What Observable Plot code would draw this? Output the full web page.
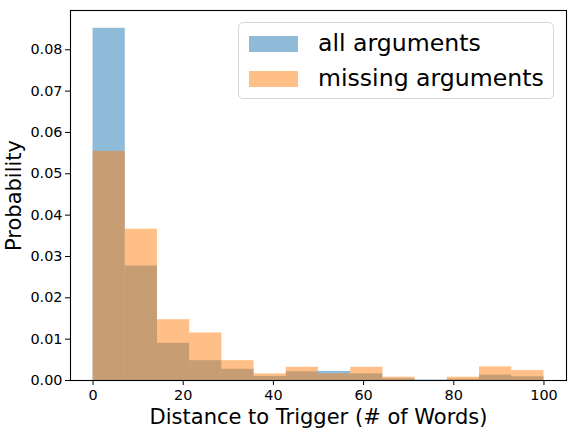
<!DOCTYPE html>
<html>
<head>
<meta charset="utf-8">
<script src="https://cdn.jsdelivr.net/npm/d3@7"></script>
<script src="https://cdn.jsdelivr.net/npm/@observablehq/plot@0.6"></script>
<style>
  html, body { margin: 0; padding: 0; background: #fff; }
  #wrap { position: relative; width: 573px; height: 434px; font-family: "DejaVu Sans", sans-serif; }
  #legend { position: absolute; left: 238px; top: 22px; width: 316px; height: 77px;
    border: 1px solid #d6d6d6; border-radius: 5px; background: rgba(255,255,255,0.8); box-sizing: border-box; }
  .item { position: absolute; left: 10px; display: flex; align-items: center; font-size: 23.6px; line-height: 1; color: #000; white-space: nowrap; }
  .sw { width: 49px; height: 16px; margin-right: 20px; }
</style>
</head>
<body>
<div id="wrap"></div>
<script>
const binEdges = [0, 7.143, 14.286, 21.429, 28.571, 35.714, 42.857, 50, 57.143, 64.286, 71.429, 78.571, 85.714, 92.857, 100];
const allArgs = [0.0852, 0.0277, 0.0090, 0.0048, 0.0027, 0.0010, 0.0021, 0.0022, 0.0016, 0.0004, 0.0001, 0.0003, 0.0013, 0.0009];
const missingArgs = [0.0554, 0.0366, 0.0147, 0.0115, 0.0048, 0.0016, 0.0032, 0.0016, 0.0032, 0.0008, 0.0000, 0.0008, 0.0033, 0.0024];
const seriesNames = ["all arguments", "missing arguments"];
const seriesColors = ["#1f77b4", "#ff7f0e"];
const xTicks = [0, 20, 40, 60, 80, 100];
const yTicks = [0, 0.01, 0.02, 0.03, 0.04, 0.05, 0.06, 0.07, 0.08];

const rows = (vals) => vals.map((v, i) => ({x1: binEdges[i], x2: binEdges[i + 1], y: v}));

const chart = Plot.plot({
  width: 573,
  height: 434,
  marginLeft: 70,
  marginRight: 7,
  marginTop: 10,
  marginBottom: 54,
  style: {fontFamily: "DejaVu Sans, sans-serif", fontSize: "14.4px", color: "#000", background: "#fff"},
  x: {domain: [-5, 105]},
  y: {domain: [0, 0.0895]},
  marks: [
    Plot.rectY(rows(allArgs), {x1: "x1", x2: "x2", y: "y", fill: seriesColors[0], fillOpacity: 0.5, inset: 0}),
    Plot.rectY(rows(missingArgs), {x1: "x1", x2: "x2", y: "y", fill: seriesColors[1], fillOpacity: 0.5, inset: 0}),
    Plot.frame({stroke: "#000", strokeWidth: 1.1}),
    Plot.axisX({ticks: xTicks, tickSize: 5, tickPadding: 4, tickFormat: d => String(d),
      label: "Distance to Trigger (# of Words)", labelAnchor: "center", labelOffset: 43, fontSize: 14.4}),
    Plot.axisY({ticks: yTicks, tickSize: 5, tickPadding: 3, tickFormat: d3.format(".2f"),
      label: "Probability", labelAnchor: "center", labelOffset: 64, fontSize: 14.4})
  ]
});

// enlarge axis labels and drop direction arrows
chart.querySelectorAll("g[aria-label='x-axis label'] text, g[aria-label='y-axis label'] text").forEach(t => {
  t.setAttribute("font-size", "21px");
  t.textContent = t.textContent.replace(/[\s]*[→↑←↓][\s]*/g, "").trim();
});

const wrap = document.getElementById("wrap");
wrap.appendChild(chart);

const legend = document.createElement("div");
legend.id = "legend";
seriesNames.forEach((name, i) => {
  const item = document.createElement("div");
  item.className = "item";
  item.style.top = (i === 0 ? 9 : 44) + "px";
  const sw = document.createElement("div");
  sw.className = "sw";
  sw.style.background = seriesColors[i];
  sw.style.opacity = 0.5;
  const label = document.createElement("span");
  label.textContent = name;
  item.appendChild(sw);
  item.appendChild(label);
  legend.appendChild(item);
});
wrap.appendChild(legend);
</script>
</body>
</html>
